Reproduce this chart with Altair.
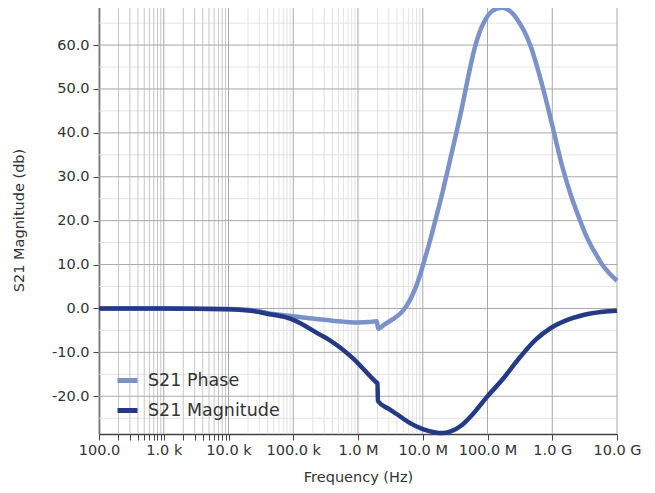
import altair as alt
import pandas as pd

# ---- data ----
freq_phase = [1e2, 1e3, 1e4, 2.4e4, 3.9e4, 1e5, 2e5, 3.6e5, 6e5, 1e6, 1.5e6, 1.95e6,
              2.05e6, 2.6e6, 3.4e6, 4.9e6, 6.6e6, 9.1e6, 1e7, 1.26e7, 1.58e7, 2.0e7,
              2.51e7, 3.16e7, 3.98e7, 5.01e7, 6.31e7, 7.4e7, 8.9e7, 1.17e8, 1.66e8,
              2.51e8, 2.83e8, 4.52e8, 7.26e8, 9.9e8, 1.45e9, 2.0e9, 2.51e9, 3.16e9,
              3.98e9, 4.8e9, 5.9e9, 7.6e9, 1e10]
phase_db = [0.0, 0.0, -0.1, -0.4, -1.0, -1.8, -2.3, -2.7, -3.0, -3.2, -3.1, -2.9,
            -4.6, -3.6, -2.5, -0.6, 2.4, 7.6, 9.7, 14.8, 20.3, 26.2,
            32.4, 38.8, 45.4, 52.6, 59.2, 62.6, 65.3, 67.7, 68.5,
            67.0, 66.0, 60.2, 50.0, 42.0, 32.0, 25.2, 21.2, 17.4,
            14.3, 12.2, 10.0, 8.0, 6.3]

freq_mag = [1e2, 1e3, 1e4, 2.4e4, 3.9e4, 8e4, 1e5, 2.54e5, 3.63e5, 8.3e5, 1.9e6, 2.0e6,
            2.03e6, 3e6, 4e6, 6e6, 1e7, 1.5e7, 2e7, 2.7e7, 4e7, 6e7, 1e8, 1.7e8, 3.1e8,
            5.56e8, 9.66e8, 1.8e9, 3.7e9, 1e10]
mag_db = [0.0, 0.0, -0.2, -0.6, -1.2, -2.1, -2.6, -5.9, -7.2, -11.3, -16.8, -17.1,
          -21.1, -22.9, -24.1, -25.9, -27.5, -28.2, -28.4, -28.0, -26.6, -24.0, -20.0,
          -16.2, -11.3, -7.1, -4.4, -2.5, -1.2, -0.5]

series_names = ["S21 Phase", "S21 Magnitude"]
series_colors = ["#7A92C9", "#253A85"]

x_major = [1e2, 1e3, 1e4, 1e5, 1e6, 1e7, 1e8, 1e9, 1e10]
x_major_labels = ["100.0", "1.0 k", "10.0 k", "100.0 k", "1.0 M", "10.0 M",
                  "100.0 M", "1.0 G", "10.0 G"]
x_ticked_minor = [m * 10 ** e for e in (2, 3) for m in range(2, 10)]
x_light_minor = [m * 10 ** e for e in (4, 5, 6) for m in range(2, 10)]
y_major = list(range(-20, 70, 10))
y_minor = list(range(-25, 70, 10))

# ---- build tables ----
rows = []
for i, (f, v) in enumerate(zip(freq_phase, phase_db)):
    rows.append({"series": series_names[0], "f": f, "v": v, "o": i})
for i, (f, v) in enumerate(zip(freq_mag, mag_db)):
    rows.append({"series": series_names[1], "f": f, "v": v, "o": i})
df = pd.DataFrame(rows)

W, H = 518, 428
FONT = "DejaVu Sans"
TXT = "#333333"
AX = "#444444"
FS = 14.5

xscale = alt.Scale(type="log", domain=[1e2, 1e10], nice=False)
yscale = alt.Scale(domain=[-28.6, 68.9], nice=False, zero=False)

label_expr = "''"
for v, lab in reversed(list(zip(x_major, x_major_labels))):
    label_expr = f"abs(datum.value - {v!r}) < {v * 1e-6!r} ? '{lab}' : ({label_expr})"

x_axis = alt.Axis(values=x_major + x_ticked_minor, labelExpr=label_expr, grid=False,
                  tickSize=6, tickColor=AX, domainColor=AX, domainWidth=1.5,
                  labelFont=FONT, labelFontSize=FS, labelColor=TXT, labelPadding=3,
                  labelFlush=False, labelOverlap=False, title="Frequency (Hz)",
                  titleFont=FONT, titleFontSize=FS, titleFontWeight="normal",
                  titleColor=TXT, titlePadding=14)
y_axis = alt.Axis(values=y_major,
                  labelExpr="(datum.value < 0 ? '-' : '') + format(abs(datum.value), '.1f')",
                  grid=False, tickSize=6, tickColor=AX, domainColor=AX, domainWidth=1.5,
                  labelFont=FONT, labelFontSize=FS, labelColor=TXT, labelPadding=4,
                  title="S21 Magnitude (db)", titleFont=FONT, titleFontSize=FS,
                  titleFontWeight="normal", titleColor=TXT, titlePadding=25)


def vgrid(vals, color):
    return alt.Chart(pd.DataFrame({"f": vals})).mark_rule(color=color, strokeWidth=1).encode(
        x=alt.X("f:Q", scale=xscale, axis=x_axis), y=alt.value(0), y2=alt.value(H))


def hgrid(vals, color):
    return alt.Chart(pd.DataFrame({"v": vals})).mark_rule(color=color, strokeWidth=1).encode(
        y=alt.Y("v:Q", scale=yscale, axis=y_axis), x=alt.value(0), x2=alt.value(W))


color_enc = alt.Color("series:N", scale=alt.Scale(domain=series_names, range=series_colors),
                      legend=alt.Legend(title=None, orient="none", legendX=16, legendY=362,
                                        symbolType="stroke", symbolStrokeWidth=5,
                                        symbolSize=400, labelFont=FONT, labelFontSize=17.5,
                                        labelColor=TXT, labelOffset=8, rowPadding=7,
                                        padding=0))


def line(name):
    return alt.Chart(df[df.series == name]).mark_line(
        strokeWidth=4.5, interpolate="monotone").encode(
        x=alt.X("f:Q", scale=xscale, axis=x_axis),
        y=alt.Y("v:Q", scale=yscale, axis=y_axis),
        color=color_enc,
        order="o:Q")


chart = alt.layer(
    hgrid(y_minor, "#e4e4e4"),
    vgrid(x_light_minor, "#e2e2e2"),
    vgrid(x_ticked_minor, "#c6c6c6"),
    hgrid(y_major, "#a8a8a8"),
    vgrid(x_major, "#a8a8a8"),
    line(series_names[0]),
    line(series_names[1]),
).properties(
    width=W, height=H,
    autosize=alt.AutoSizeParams(type="none"),
    padding={"left": 91, "top": -2, "right": 30, "bottom": 60},
    background="white",
).configure_view(stroke=None)

chart.save("out.html", embed_options={"renderer": "svg", "actions": False})
